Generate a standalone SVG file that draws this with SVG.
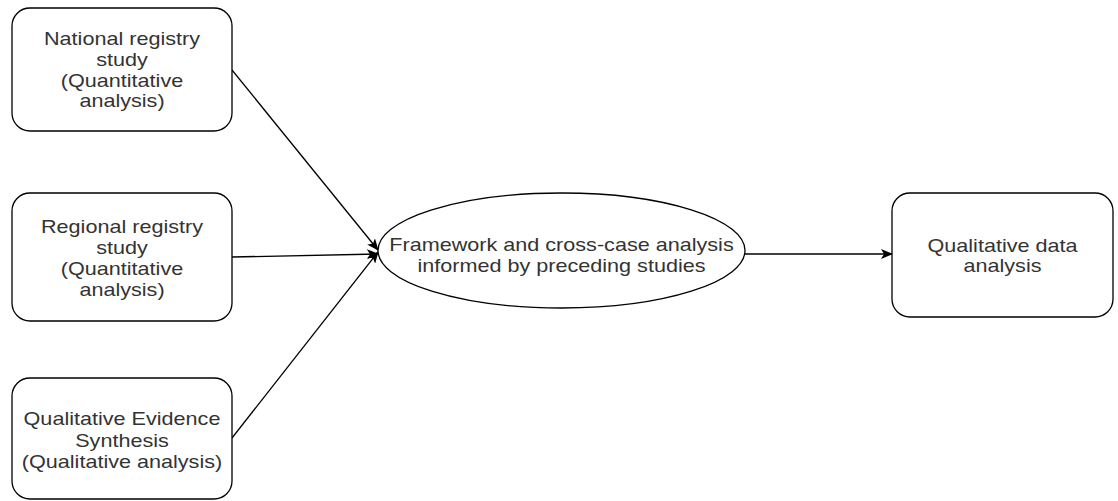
<svg xmlns="http://www.w3.org/2000/svg" width="1118" height="501" viewBox="0 0 1118 501">
<style>
.box{fill:#fff;stroke:#000;stroke-width:1.3}
.lbl{font-family:"Liberation Sans",Arial,sans-serif;font-size:18px;fill:#333;text-anchor:middle}
.edge{fill:none;stroke:#000;stroke-width:1.3}
</style>
<defs>
<marker id="arr" markerUnits="userSpaceOnUse" markerWidth="12" markerHeight="10" refX="11" refY="5" orient="auto" viewBox="0 0 12 10">
<path d="M0,0 L12,5 L0,10 L3,5 z" fill="#000"/>
</marker>
</defs>
<rect width="1118" height="501" fill="#fff"/>
<g id="connectors">
<line class="edge" x1="232" y1="70" x2="378" y2="250" marker-end="url(#arr)"/>
<line class="edge" x1="232" y1="257" x2="378" y2="254" marker-end="url(#arr)"/>
<line class="edge" x1="232" y1="438" x2="378" y2="252" marker-end="url(#arr)"/>
<line class="edge" x1="745" y1="254" x2="892" y2="254" marker-end="url(#arr)"/>
</g>
<g id="national">
<rect class="box" x="12" y="8" width="220" height="123" rx="18"/>
<text class="lbl" transform="translate(122 0) scale(1.2 1)"><tspan x="0" y="45">National registry</tspan><tspan x="0" y="66">study</tspan><tspan x="0" y="87">(Quantitative</tspan><tspan x="0" y="107">analysis)</tspan></text>
</g>
<g id="regional">
<rect class="box" x="12" y="193" width="220" height="128" rx="18"/>
<text class="lbl" transform="translate(122 0) scale(1.2 1)"><tspan x="0" y="233">Regional registry</tspan><tspan x="0" y="254">study</tspan><tspan x="0" y="275">(Quantitative</tspan><tspan x="0" y="296">analysis)</tspan></text>
</g>
<g id="qes">
<rect class="box" x="12" y="378" width="220" height="121" rx="18"/>
<text class="lbl" transform="translate(122 0) scale(1.2 1)"><tspan x="0" y="425">Qualitative Evidence</tspan><tspan x="0" y="447">Synthesis</tspan><tspan x="0" y="468">(Qualitative analysis)</tspan></text>
</g>
<g id="framework">
<ellipse class="box" cx="561.5" cy="250.5" rx="183.5" ry="57.5"/>
<text class="lbl" transform="translate(561.5 0) scale(1.2 1)"><tspan x="0" y="251">Framework and cross-case analysis</tspan><tspan x="0" y="272">informed by preceding studies</tspan></text>
</g>
<g id="qda">
<rect class="box" x="892" y="193" width="221" height="124" rx="18"/>
<text class="lbl" transform="translate(1002.5 0) scale(1.2 1)"><tspan x="0" y="252">Qualitative data</tspan><tspan x="0" y="272">analysis</tspan></text>
</g>
</svg>
